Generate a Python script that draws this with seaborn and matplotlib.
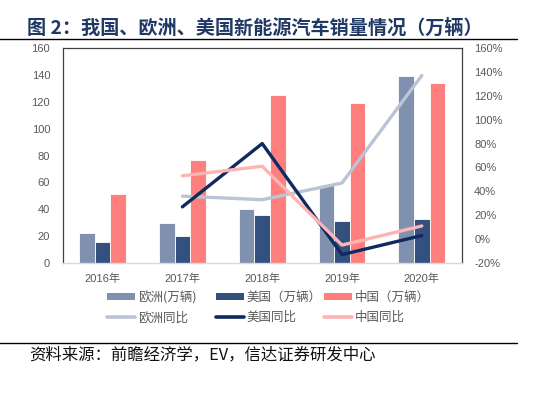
import numpy as np
import pandas as pd
import seaborn as sns
import matplotlib.pyplot as plt
from matplotlib.lines import Line2D
from matplotlib.patches import Patch
from matplotlib.ticker import FuncFormatter

# -----------------------------
# data
# -----------------------------
years = ['2016年', '2017年', '2018年', '2019年', '2020年']
eu_sales = [22, 30, 40, 58, 139]
us_sales = [16, 20, 36, 31, 33]
cn_sales = [51, 77, 125, 119, 134]
eu_yoy = [np.nan, 36, 33, 47, 137]
us_yoy = [np.nan, 27, 80, -13, 3]
cn_yoy = [np.nan, 53, 61, -5, 11]

bar_names = ['欧洲(万辆)', '美国（万辆）', '中国（万辆）']
line_names = ['欧洲同比', '美国同比', '中国同比']
bar_colors = ['#8091b0', '#34507e', '#ff7f7f']
line_colors = ['#bac4d4', '#0f2a5e', '#ffb3b3']

title = '图 2：我国、欧洲、美国新能源汽车销量情况（万辆）'
source = '资料来源：前瞻经济学，EV，信达证券研发中心'

sns.set_style('white')
plt.rcParams['font.family'] = ['Liberation Sans', 'Noto Sans CJK SC']

W, H = 546, 397
gray = '#595959'

df = pd.DataFrame({
    'year': years * 3,
    'sales': eu_sales + us_sales + cn_sales,
    'region': [n for n in bar_names for _ in years],
})
pos = np.arange(len(years))
yoy = pd.DataFrame({
    'x': np.tile(pos, 3),
    'yoy': eu_yoy + us_yoy + cn_yoy,
    'region': [n for n in line_names for _ in years],
}).dropna()

fig = plt.figure(figsize=(W / 100, H / 100), dpi=100)
ax = fig.add_axes([62.7 / W, 1 - 263 / H, 399 / W, 215 / H])

sns.barplot(data=df, x='year', y='sales', hue='region', hue_order=bar_names,
            palette=bar_colors, width=0.585, edgecolor='white', linewidth=0.6,
            saturation=1, ax=ax, legend=False)
ax.set_ylim(0, 160)
ax.set_yticks(range(0, 161, 20))
ax.set_xlim(-0.5, len(years) - 0.5)
ax.set_xlabel('')
ax.set_ylabel('')
ax.tick_params(axis='y', length=0, colors=gray, labelsize=8, pad=9)
ax.tick_params(axis='x', length=0, colors=gray, labelsize=8, pad=8)
for s in ['left', 'top', 'right']:
    ax.spines[s].set_color('#404040')
    ax.spines[s].set_linewidth(0.9)
ax.spines['bottom'].set_color('#d9d9d9')
ax.spines['bottom'].set_linewidth(1.0)

ax2 = ax.twinx()
sns.lineplot(data=yoy, x='x', y='yoy', hue='region', hue_order=line_names,
             palette=line_colors, linewidth=2.4, ax=ax2, legend=False)
ax2.set_ylim(-20, 160)
ax2.set_yticks(range(-20, 161, 20))
ax2.yaxis.set_major_formatter(FuncFormatter(lambda v, p: f'{v:.0f}%'))
ax2.set_ylabel('')
ax2.set_xlabel('')
ax2.tick_params(axis='y', length=0, colors=gray, labelsize=8, pad=9)
for s in ax2.spines.values():
    s.set_visible(False)
ax.set_xlim(-0.5, len(years) - 0.5)

# legends, one per column
leg_x = [107.3, 216, 324]
for i in range(3):
    handles = [Patch(facecolor=bar_colors[i], edgecolor='none'),
               Line2D([], [], color=line_colors[i], lw=2.6)]
    leg = fig.legend(handles, [bar_names[i], line_names[i]], loc='upper left',
                     bbox_to_anchor=(leg_x[i] / W, 1 - 291 / H), frameon=False,
                     fontsize=9, handlelength=2.2, handleheight=0.5,
                     handletextpad=0.25, labelspacing=0.55, borderpad=0,
                     borderaxespad=0)
    for t in leg.get_texts():
        t.set_color(gray)
        t.set_family(['Noto Sans CJK SC', 'DejaVu Sans'])

# title, rules, source
fig.text(27.3 / W, 1 - 28 / H, title, fontsize=13.8, fontweight='bold',
         color='#1f3864', va='center', family=['Noto Sans CJK SC', 'DejaVu Sans'])
fig.add_artist(Line2D([0, 517 / W], [1 - 39 / H] * 2, color='black', lw=1.0))
fig.add_artist(Line2D([0, 517 / W], [1 - 342.7 / H] * 2, color='black', lw=1.0))
fig.text(29.5 / W, 1 - 355 / H, source, fontsize=11.8, color='#111111',
         va='center', family=['Noto Sans CJK SC', 'DejaVu Sans'])

fig.savefig('out.png', dpi=100)
